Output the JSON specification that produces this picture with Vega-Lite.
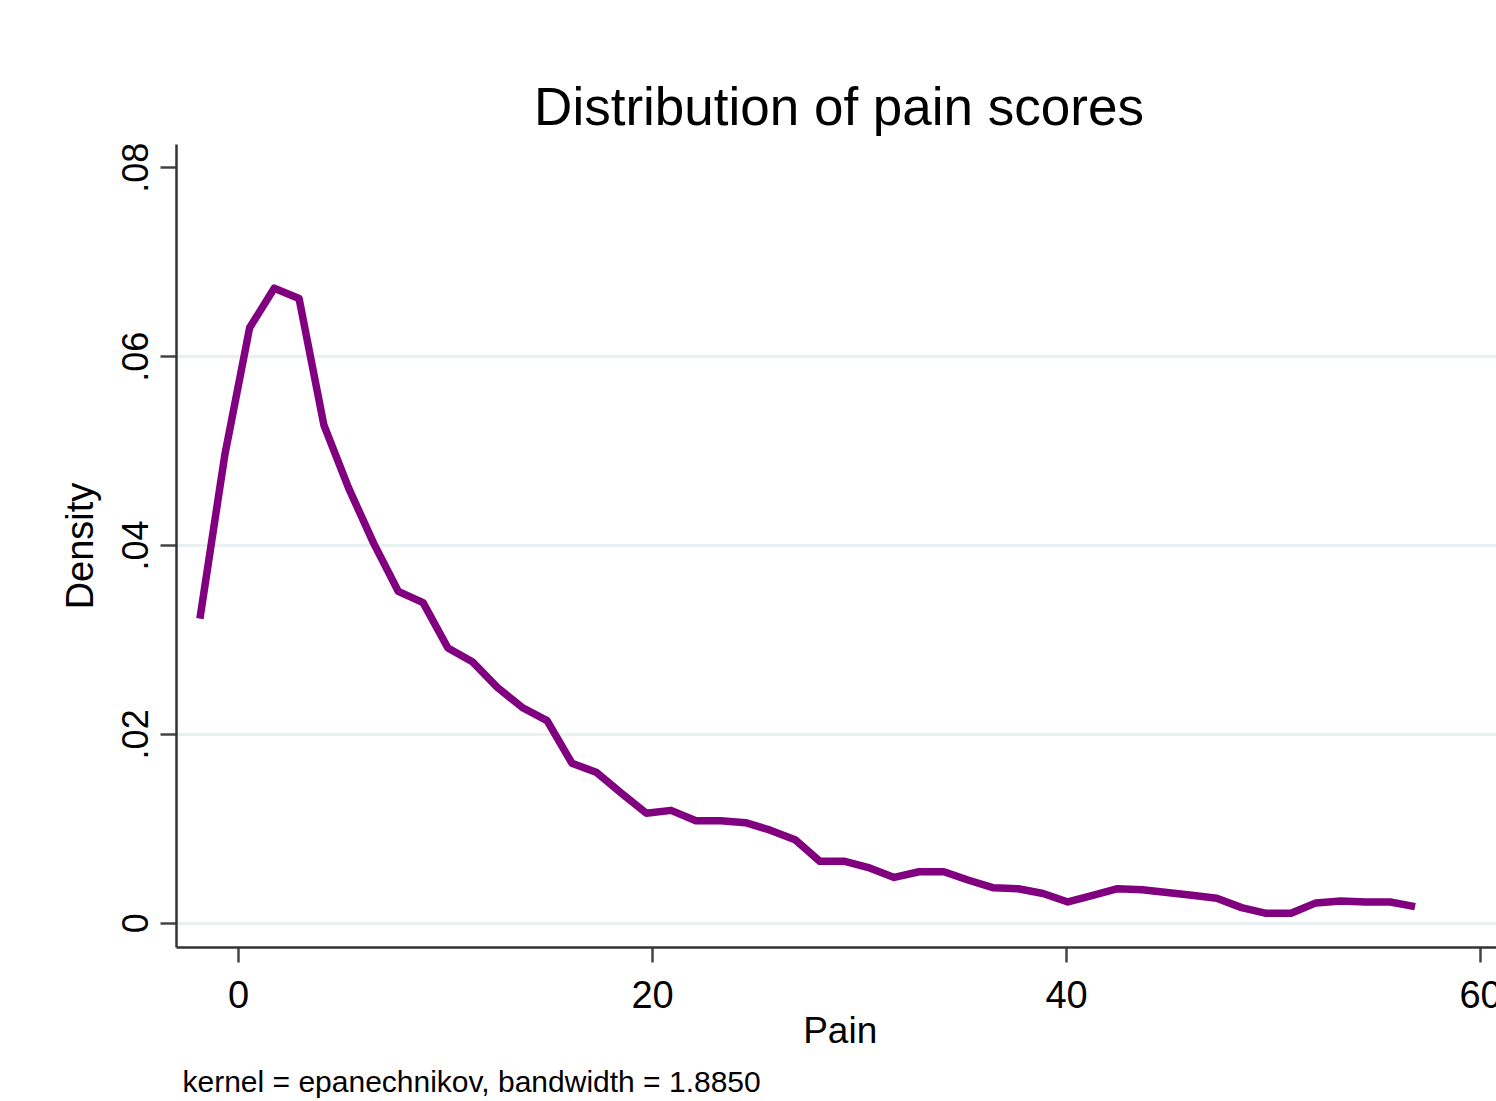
{
  "$schema": "https://vega.github.io/schema/vega-lite/v6.json",
  "width": 1320,
  "height": 803,
  "autosize": {"type": "none"},
  "padding": {"left": 176, "top": 144, "right": 0, "bottom": 154},
  "background": "white",
  "config": {"font": "Liberation Sans", "view": {"stroke": null}},
  "title": {"text": "Distribution of pain scores", "fontSize": 53, "font": "Liberation Sans", "fontWeight": "normal", "color": "black", "anchor": "middle", "frame": "group", "baseline": "alphabetic", "offset": -36, "dx": 3},
  "data": {"values": [
    {"pain": -1.84, "density": 0.0322},
    {"pain": -0.64, "density": 0.0495},
    {"pain": 0.56, "density": 0.0630},
    {"pain": 1.75, "density": 0.0672},
    {"pain": 2.95, "density": 0.0661},
    {"pain": 4.15, "density": 0.0527},
    {"pain": 5.35, "density": 0.0460},
    {"pain": 6.55, "density": 0.0402},
    {"pain": 7.74, "density": 0.0351},
    {"pain": 8.94, "density": 0.0339},
    {"pain": 10.14, "density": 0.0291},
    {"pain": 11.34, "density": 0.0276},
    {"pain": 12.54, "density": 0.0249},
    {"pain": 13.73, "density": 0.0228},
    {"pain": 14.93, "density": 0.0214},
    {"pain": 16.13, "density": 0.0169},
    {"pain": 17.33, "density": 0.0159},
    {"pain": 18.53, "density": 0.0137},
    {"pain": 19.72, "density": 0.0116},
    {"pain": 20.92, "density": 0.0119},
    {"pain": 22.12, "density": 0.0108},
    {"pain": 23.32, "density": 0.0108},
    {"pain": 24.52, "density": 0.0106},
    {"pain": 25.71, "density": 0.0098},
    {"pain": 26.91, "density": 0.0088},
    {"pain": 28.11, "density": 0.0065},
    {"pain": 29.31, "density": 0.0065},
    {"pain": 30.51, "density": 0.0058},
    {"pain": 31.70, "density": 0.0048},
    {"pain": 32.90, "density": 0.0054},
    {"pain": 34.10, "density": 0.0054},
    {"pain": 35.30, "density": 0.0045},
    {"pain": 36.50, "density": 0.0037},
    {"pain": 37.69, "density": 0.0036},
    {"pain": 38.89, "density": 0.0031},
    {"pain": 40.09, "density": 0.0022},
    {"pain": 41.29, "density": 0.0029},
    {"pain": 42.49, "density": 0.0036},
    {"pain": 43.68, "density": 0.0035},
    {"pain": 44.88, "density": 0.0032},
    {"pain": 46.08, "density": 0.0029},
    {"pain": 47.28, "density": 0.0026},
    {"pain": 48.48, "density": 0.0016},
    {"pain": 49.67, "density": 0.0010},
    {"pain": 50.87, "density": 0.0010},
    {"pain": 52.07, "density": 0.0021},
    {"pain": 53.27, "density": 0.0023},
    {"pain": 54.47, "density": 0.0022},
    {"pain": 55.66, "density": 0.0022},
    {"pain": 56.86, "density": 0.0017}
  ]},
  "layer": [
    {
      "mark": {"type": "line", "color": "#800080", "strokeWidth": 7.5, "strokeJoin": "round", "strokeCap": "butt", "clip": false},
      "encoding": {
        "x": {
          "field": "pain", "type": "quantitative",
          "scale": {"domain": [-2.995, 60.77], "nice": false, "zero": false},
          "axis": {
            "values": [0, 20, 40, 60], "grid": false,
            "domainColor": "#333333", "domainWidth": 2.5,
            "tickColor": "#444444", "tickWidth": 2.5, "tickSize": 15,
            "labelFontSize": 38, "labelColor": "black", "labelPadding": 15, "labelFont": "Liberation Sans",
            "labelFlush": false, "labelOverlap": false, "labelBaseline": "top",
            "title": "Pain", "titleFontSize": 37, "titleFontWeight": "normal", "titleColor": "black", "titleFont": "Liberation Sans",
            "titleX": 663.7, "titleY": 95.7, "titleBaseline": "alphabetic", "titleAlign": "center"
          }
        },
        "y": {
          "field": "density", "type": "quantitative",
          "scale": {"domain": [-0.00257, 0.08247], "nice": false, "zero": false},
          "axis": {
            "values": [0, 0.02, 0.04, 0.06, 0.08],
            "labelExpr": "datum.value == 0 ? '0' : replace(format(datum.value, '.2f'), '0.', '.')",
            "grid": true, "gridColor": "#e8f0f2", "gridWidth": 3,
            "gridOpacity": {"condition": {"test": "datum.value > 0.07", "value": 0}, "value": 1},
            "domainColor": "#333333", "domainWidth": 2.5,
            "tickColor": "#444444", "tickWidth": 2.5, "tickSize": 16,
            "labelFontSize": 36, "labelColor": "black", "labelPadding": 13, "labelFont": "Liberation Sans",
            "labelAngle": 270, "labelAlign": "center", "labelBaseline": "alphabetic", "labelFlush": false, "labelOverlap": false,
            "title": "Density", "titleFontSize": 38, "titleFontWeight": "normal", "titleColor": "black", "titleFont": "Liberation Sans",
            "titleAngle": 270, "titleX": -84, "titleY": 401.5, "titleBaseline": "alphabetic", "titleAlign": "center"
          }
        }
      }
    },
    {
      "mark": {"type": "line", "strokeOpacity": 0},
      "encoding": {
        "x": {
          "field": "pain", "type": "quantitative",
          "axis": {
            "orient": "bottom", "labels": false, "ticks": false, "domain": false, "grid": false,
            "title": "kernel = epanechnikov, bandwidth = 1.8850",
            "titleFontSize": 30, "titleFontWeight": "normal", "titleColor": "black", "titleFont": "Liberation Sans",
            "titleX": 6, "titleY": 144, "titleAlign": "left", "titleBaseline": "alphabetic"
          }
        },
        "y": {"field": "density", "type": "quantitative"}
      }
    }
  ],
  "resolve": {"axis": {"x": "independent"}}
}
